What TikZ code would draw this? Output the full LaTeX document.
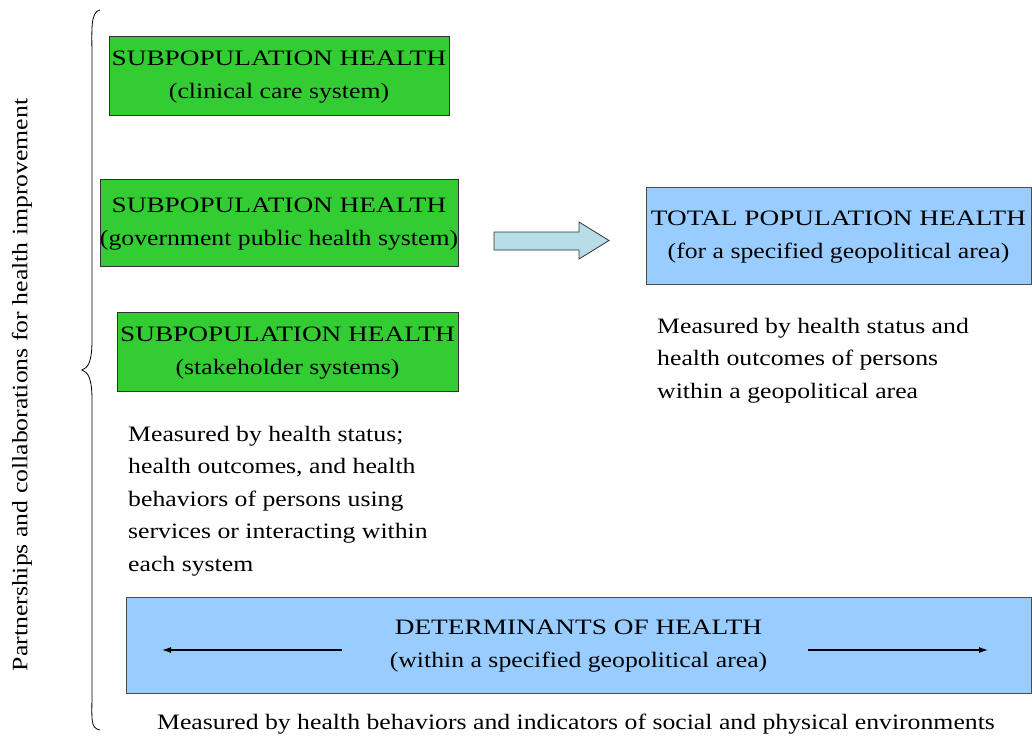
\documentclass[tikz,border=0pt]{standalone}
\usepackage{fontspec}
\setmainfont[FakeStretch=1.17]{Liberation Serif}
\newfontfamily\capsfont[FakeStretch=1.24]{Liberation Serif}
\usetikzlibrary{arrows.meta,decorations.pathreplacing}
\definecolor{boxgreen}{HTML}{33CC33}
\definecolor{boxblue}{HTML}{99CCFF}
\definecolor{arrowcyan}{HTML}{B7DEE8}
\newcommand{\capline}[1]{{\capsfont #1}}
\begin{document}
\begin{tikzpicture}[x=1pt,y=-1pt,
  greenbox/.style={draw=black!80,fill=boxgreen,line width=0.8pt},
  bluebox/.style={draw=black!70,fill=boxblue,line width=0.8pt},
  txt/.style={font=\fontsize{22}{33}\selectfont,align=center,inner sep=0pt},
  para/.style={font=\fontsize{22}{32.5}\selectfont,align=left,inner sep=0pt,anchor=north west},
  thinarrow/.style={-{Latex[length=9pt,width=6pt]},line width=1.1pt}]
\useasboundingbox (0,0) rectangle (1032,741);
% green boxes
\draw[greenbox] (109,36) rectangle (449,115);
\node[txt] (t1) at (279,77) {\capline{SUBPOPULATION HEALTH}\\(clinical care system)};
\draw[greenbox] (100,179) rectangle (458,266);
\node[txt] (t2) at (279,224) {\capline{SUBPOPULATION HEALTH}\\(government public health system)};
\draw[greenbox] (117,312) rectangle (458,391);
\node[txt] (t3) at (287.5,353) {\capline{SUBPOPULATION HEALTH}\\(stakeholder systems)};
% total population box
\draw[bluebox] (646,187) rectangle (1031,284);
\node[txt] (tp) at (838.5,237) {\capline{TOTAL POPULATION HEALTH}\\(for a specified geopolitical area)};
% block arrow
\draw[fill=arrowcyan,draw=black!80,line width=0.8pt,line join=miter]
  (494,232) -- (579,232) -- (579,222) -- (609,240.5) -- (579,259) -- (579,250) -- (494,250) -- cycle;
% paragraphs
\node[para] (m1) at (657,318) {Measured by health status and\\health outcomes of persons\\within a geopolitical area};
\node[para] (m2) at (128,426) {Measured by health status;\\health outcomes, and health\\behaviors of persons using\\services or interacting within\\each system};
% determinants box
\draw[bluebox] (126,597) rectangle (1031,693);
\node[txt] (det) at (578.5,646) {\capline{DETERMINANTS OF HEALTH}\\(within a specified geopolitical area)};
\coordinate (la) at (342,650);
\coordinate (lb) at (162,650);
\coordinate (ra) at (808,650);
\coordinate (rb) at (988,650);
\draw[thinarrow] (la) -- (lb);
\draw[thinarrow] (ra) -- (rb);
\node[inner sep=0pt,font=\fontsize{22}{26}\selectfont] (bottom) at (576,724) {Measured by health behaviors and indicators of social and physical environments};
% brace
\draw[line width=0.8pt] (100,10) .. controls (90,12) and (92,30) .. (92,60)
  -- (92,340) .. controls (92,362) and (88,368) .. (82,370)
  .. controls (88,372) and (92,378) .. (92,400)
  -- (92,690) .. controls (92,720) and (90,728) .. (100,730);
% vertical label
\node[rotate=90,inner sep=0pt,font=\fontsize{22}{26}\selectfont] (side) at (22,385) {Partnerships and collaborations for health improvement};
\end{tikzpicture}
\end{document}
